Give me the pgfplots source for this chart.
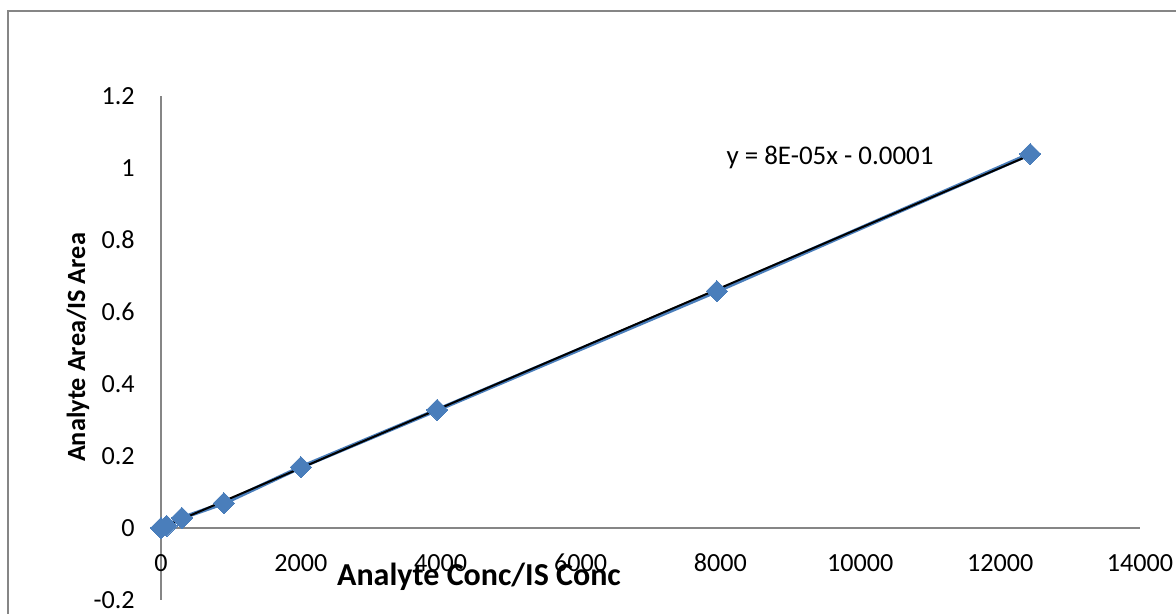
\documentclass[border=0pt]{standalone}
\usepackage{pgfplots}
\pgfplotsset{compat=1.18}
\usepackage{fontspec}
\setmainfont{Carlito}
\definecolor{serblue}{HTML}{4A7EBB}
\definecolor{axgray}{HTML}{868686}
\begin{document}
\fontsize{19.6}{23}\selectfont
\begin{tikzpicture}
\useasboundingbox (0,0) rectangle (882pt,459.75pt);
\begin{scope}
\clip (0,0) rectangle (882pt,459.75pt);
\draw[axgray, line width=1.1pt] (6pt,-20pt) -- (6pt,451.5pt) -- (900pt,451.5pt);
\end{scope}
\begin{axis}[
  at={(120.75pt,9.75pt)}, anchor=south west,
  scale only axis, width=734.25pt, height=378pt,
  xmin=0, xmax=14000, ymin=-0.2, ymax=1.2,
  axis lines=middle,
  axis line style={-, draw=axgray, line width=1.1pt},
  major tick length=0pt,
  hide obscured x ticks=false, hide obscured y ticks=false,
  xtick={0,2000,...,14000}, ytick={-0.2,0,0.2,...,1.2},
  scaled x ticks=false, scaled y ticks=false,
  tick label style={font=\fontsize{19.6}{23}\selectfont},
  xticklabel style={anchor=center, yshift=-26.25pt},
  yticklabel style={anchor=east, inner sep=0pt, xshift=-19.5pt},
  /pgf/number format/assume math mode=true,
  xticklabel={\pgfmathprintnumber[fixed, precision=0, 1000 sep={}]{\tick}},
  yticklabel={\pgfmathprintnumber[fixed, precision=1]{\tick}},
  xlabel={\textbf{Analyte Conc/IS Conc}},
  ylabel={\textbf{Analyte Area/IS Area}},
  xlabel style={at={(axis description cs:0.3248,0.0456)}, anchor=center, font=\fontsize{24}{28}\selectfont},
  ylabel style={at={(axis description cs:-0.0848,0.501)}, anchor=center, rotate=90, font=\fontsize{19.7}{23}\selectfont},
  clip=false,
]
\addplot[serblue, line width=3pt, mark=diamond*, mark size=8pt, mark options={fill=serblue, draw=serblue, line width=0pt, xscale=1.333}]
  coordinates {(0,0) (80,0.006) (300,0.028) (900,0.069) (2000,0.169) (3950,0.328) (7950,0.658) (12430,1.039)};
\addplot[black, line width=1.5pt] coordinates {(0,-0.0001) (12430,1.036)};
\node[anchor=center, font=\fontsize{20.2}{24}\selectfont] at (axis cs:9567,1.028) {y = 8E-05x - 0.0001};
\end{axis}
\end{tikzpicture}
\end{document}
